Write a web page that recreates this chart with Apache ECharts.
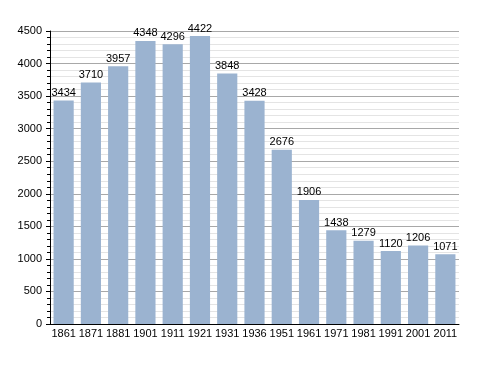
<!DOCTYPE html>
<html><head><meta charset="utf-8">
<script src="https://cdn.jsdelivr.net/npm/echarts@6/dist/echarts.min.js"></script>
<style>html,body{margin:0;padding:0;background:#fff}#c{width:488px;height:373px}</style>
</head><body><div id="c"></div>
<script>
var years = ['1861','1871','1881','1901','1911','1921','1931','1936','1951','1961','1971','1981','1991','2001','2011'];
var population = [3434,3710,3957,4348,4296,4422,3848,3428,2676,1906,1438,1279,1120,1206,1071];
var yTicks = [0,500,1000,1500,2000,2500,3000,3500,4000,4500];

var chart = echarts.init(document.getElementById('c'), null, {renderer:'canvas'});
chart.setOption({
  animation:false,
  textStyle:{fontFamily:'Liberation Sans, Arial, sans-serif'},
  grid:{left:50,right:29,top:31,bottom:49,containLabel:false},
  xAxis:{type:'category',data:years,
    axisLine:{lineStyle:{color:'#000',width:1}},
    axisTick:{show:false},
    axisLabel:{color:'#000',fontSize:11,margin:4,interval:0}},
  yAxis:{type:'value',min:yTicks[0],max:yTicks[yTicks.length-1],interval:500,
    axisLine:{show:true,lineStyle:{color:'#000',width:1}},
    axisTick:{show:true,length:4,lineStyle:{color:'#000'}},
    minorTick:{show:true,splitNumber:5,length:3,lineStyle:{color:'#000'}},
    splitLine:{lineStyle:{color:'#a8a8a8',width:1}},
    minorSplitLine:{show:true,lineStyle:{color:'#e4e4e4',width:1}},
    axisLabel:{color:'#000',fontSize:11,margin:8,formatter:function(v){return String(v);}}},
  series:[{type:'bar',data:population,barWidth:'74%',
    itemStyle:{color:'#9bb3d0'},
    label:{show:true,position:'top',color:'#000',fontSize:11,distance:2}}]
});
</script></body></html>
